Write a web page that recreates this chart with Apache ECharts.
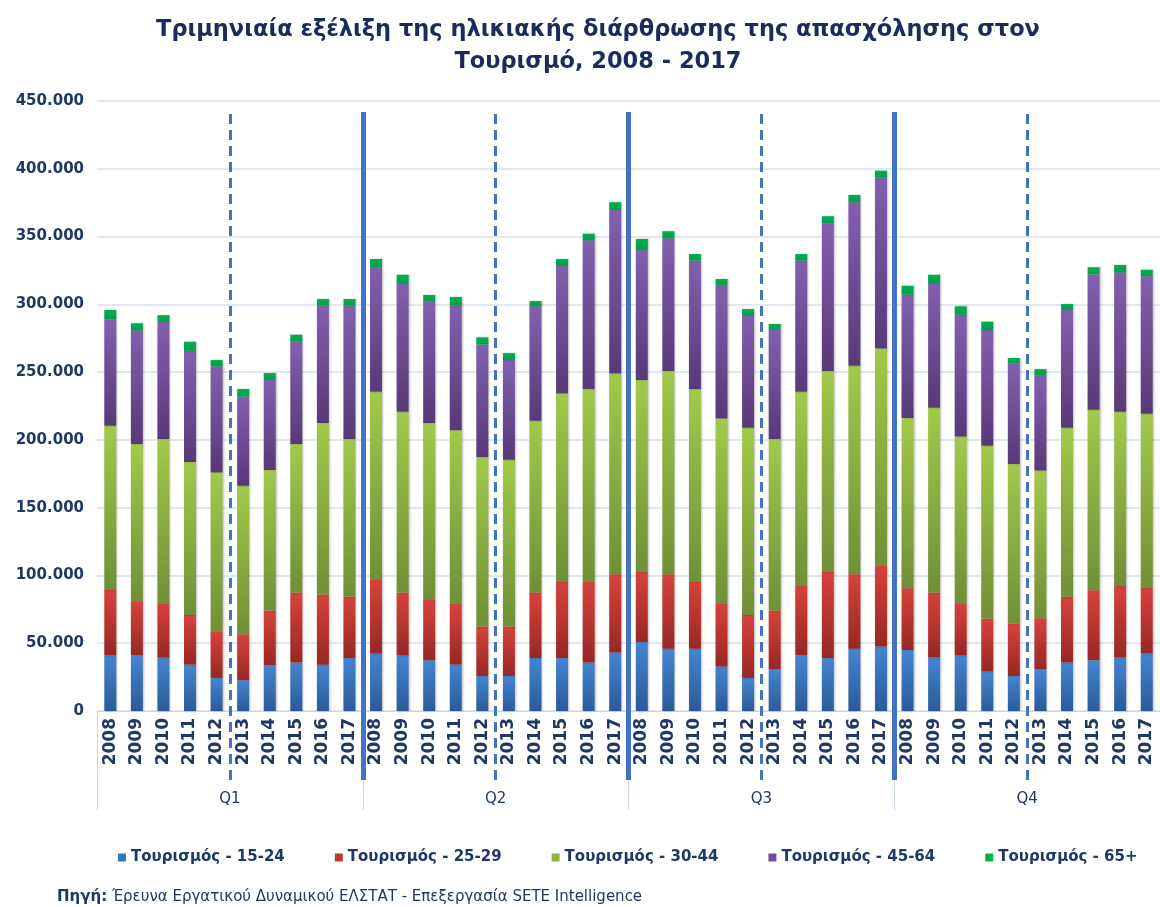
<!DOCTYPE html>
<html>
<head>
<meta charset="utf-8">
<script src="https://cdn.jsdelivr.net/npm/echarts@6/dist/echarts.min.js"></script>
<style>
html,body{margin:0;padding:0;background:#fff;}
#chart{width:1160px;height:907px;}
</style>
</head>
<body>
<div id="chart"></div>
<script>
const titleText = 'Τριμηνιαία εξέλιξη της ηλικιακής διάρθρωσης της απασχόλησης στον\nΤουρισμό, 2008 - 2017';
const sourceLabel = 'Πηγή:';
const sourceText = 'Έρευνα Εργατικού Δυναμικού ΕΛΣΤΑΤ - Επεξεργασία SETE Intelligence';
const years = ['2008','2009','2010','2011','2012','2013','2014','2015','2016','2017'];
const quarters = ['Q1','Q2','Q3','Q4'];
const seriesNames = ['Τουρισμός - 15-24','Τουρισμός - 25-29','Τουρισμός - 30-44','Τουρισμός - 45-64','Τουρισμός - 65+'];
// values ordered Q1 2008..2017, Q2 2008..2017, Q3 ..., Q4 ...
const age15_24 = [
  40900,41000,39400,34200,24400,22700,33700,35700,34200,39100,
  42400,40900,37400,34200,25800,25800,39100,39100,35700,43100,
  50900,46000,46000,32800,24400,30800,41100,39100,46000,47500,
  45000,39400,40900,29100,25800,30800,35700,37400,39400,42400];
const age25_29 = [
  48400,40000,40100,36700,34400,33900,40400,51700,51700,45100,
  54800,46500,45100,45300,36500,36500,48300,56100,60000,57800,
  51700,54900,49200,46700,46500,43300,51700,63500,54900,60100,
  45600,48000,38600,39100,38700,37600,48500,51700,52900,48400];
const age30_44 = [
  121100,116000,121100,112700,117200,109500,103600,109500,126500,116400,
  138300,133300,129900,127700,125000,123000,126700,139100,141800,148100,
  141500,149900,142300,136300,138000,126500,142700,148200,153800,159900,
  125500,136300,123000,127400,117800,109000,124700,133100,128400,128400];
const age45_64 = [
  78600,83800,86400,82100,78200,65900,67200,75800,86600,98400,
  91800,95000,89800,91800,83100,73600,84400,94700,109700,121300,
  96700,97900,94700,97900,83200,80600,96700,109000,120600,126200,
  91000,92000,89800,85400,74100,69900,87600,99900,102900,101500];
const age65plus = [
  6800,5200,5000,6700,4700,5500,4400,4900,4900,4900,
  6100,6100,4700,6400,5200,5100,3900,4400,4900,5000,
  7400,5200,4900,5000,4400,4300,4900,5200,5400,4900,
  6600,6100,6200,6200,4000,4900,3700,5200,5400,4800];
const yTicks = [0,50000,100000,150000,200000,250000,300000,350000,400000,450000];

const categories = [];
quarters.forEach(() => years.forEach(y => categories.push(y)));

const navy = '#1F3864';
const palette = [
  ['#4485D3','#2B5A98','#3A75C1'],
  ['#D8423C','#962823','#C0392F'],
  ['#A2C94A','#718F36','#92B83E'],
  ['#8260AE','#573A78','#7050A0'],
  ['#00B050','#00A048','#00B050']
];
const allData = [age15_24, age25_29, age30_44, age45_64, age65plus];

function fmt(v){
  return String(v).replace(/\B(?=(\d{3})+(?!\d))/g, '.');
}

const barSeries = allData.map((d, i) => ({
  name: seriesNames[i],
  type: 'bar',
  stack: 'total',
  xAxisIndex: 0,
  yAxisIndex: 0,
  barWidth: 12,
  data: d,
  itemStyle: {
    color: new echarts.graphic.LinearGradient(0,0,0,1,[
      {offset:0,color:palette[i][0]},{offset:1,color:palette[i][1]}
    ]),
    shadowBlur: 2,
    shadowColor: 'rgba(0,0,0,0.25)',
    shadowOffsetX: 1,
    shadowOffsetY: 0
  },
  emphasis: {disabled: true}
}));

const n = years.length;
const dashedAt = quarters.map((q, k) => k * n + years.indexOf('2013'));
const solidAt = quarters.slice(1).map((q, k) => (k + 1) * n);

const dividerSeries = {
  type: 'line',
  xAxisIndex: 2,
  yAxisIndex: 1,
  data: [],
  silent: true,
  markLine: {
    symbol: ['none','none'],
    silent: true,
    label: {show: false},
    emphasis: {disabled: true},
    data: [
      ...dashedAt.map(x => ({xAxis: x, lineStyle: {type: [10, 6], width: 3, color: '#4472C4'}})),
      ...solidAt.map(x => ({xAxis: x, lineStyle: {type: 'solid', width: 5, color: '#4472C4'}}))
    ]
  }
};

const chart = echarts.init(document.getElementById('chart'), null, {renderer: 'canvas'});
chart.setOption({
  animation: false,
  backgroundColor: '#ffffff',
  textStyle: {fontFamily: 'DejaVu Sans'},
  grid: [
    {left: 97, right: -11, top: 101, bottom: 196, containLabel: false},
    {left: 97, right: -11, top: 112, bottom: 127, containLabel: false}
  ],
  legend: {
    left: 113,
    top: 845,
    itemWidth: 8,
    itemHeight: 8,
    itemGap: 50,
    icon: 'rect',
    textStyle: {color: navy, fontSize: 15, fontWeight: 'bold', fontFamily: 'DejaVu Sans'},
    data: seriesNames.map((nm, i) => ({name: nm, itemStyle: {color: palette[i][2]}}))
  },
  xAxis: [
    {
      type: 'category',
      gridIndex: 0,
      data: categories,
      axisLine: {show: true, lineStyle: {color: '#C9D6EA', width: 1}},
      axisTick: {show: false},
      axisLabel: {
        interval: 0, rotate: 90, margin: 7,
        color: navy, fontSize: 17, fontWeight: 'bold', fontFamily: 'DejaVu Sans'
      }
    },
    {
      type: 'category',
      gridIndex: 0,
      position: 'bottom',
      offset: 99,
      data: quarters,
      axisLine: {show: false},
      axisTick: {show: true, inside: true, length: 99, lineStyle: {color: '#C9D6EA', width: 1}},
      axisLabel: {inside: true, margin: 3, color: navy, fontSize: 15, fontFamily: 'DejaVu Sans'}
    },
    {
      type: 'value',
      gridIndex: 1,
      min: 0,
      max: categories.length,
      show: false
    }
  ],
  yAxis: [
    {
      type: 'value',
      gridIndex: 0,
      min: 0,
      max: yTicks[yTicks.length - 1],
      interval: yTicks[1] - yTicks[0],
      axisLine: {show: false},
      axisTick: {show: false},
      splitLine: {lineStyle: {color: '#D6E1F0', width: 1.5}},
      axisLabel: {
        margin: 13, color: navy, fontSize: 15, fontWeight: 'bold', fontFamily: 'DejaVu Sans',
        formatter: v => fmt(v)
      }
    },
    {
      type: 'value',
      gridIndex: 1,
      min: 0,
      max: 1,
      show: false
    }
  ],
  graphic: [
    {
      type: 'text',
      x: 598,
      y: 14,
      style: {
        text: titleText,
        textAlign: 'center',
        textVerticalAlign: 'top',
        fill: '#1B2C5C',
        fontSize: 22.5,
        fontWeight: 'bold',
        fontFamily: 'DejaVu Sans',
        lineHeight: 32
      }
    },
    {
      type: 'text',
      x: 57,
      y: 897,
      style: {
        text: '{b|' + sourceLabel + '} ' + sourceText,
        textVerticalAlign: 'middle',
        fill: navy,
        fontSize: 15,
        fontFamily: 'DejaVu Sans',
        rich: {b: {fontWeight: 'bold', fontSize: 15, fill: navy, fontFamily: 'DejaVu Sans'}}
      }
    }
  ],
  series: [...barSeries, dividerSeries]
});
</script>
</body>
</html>
